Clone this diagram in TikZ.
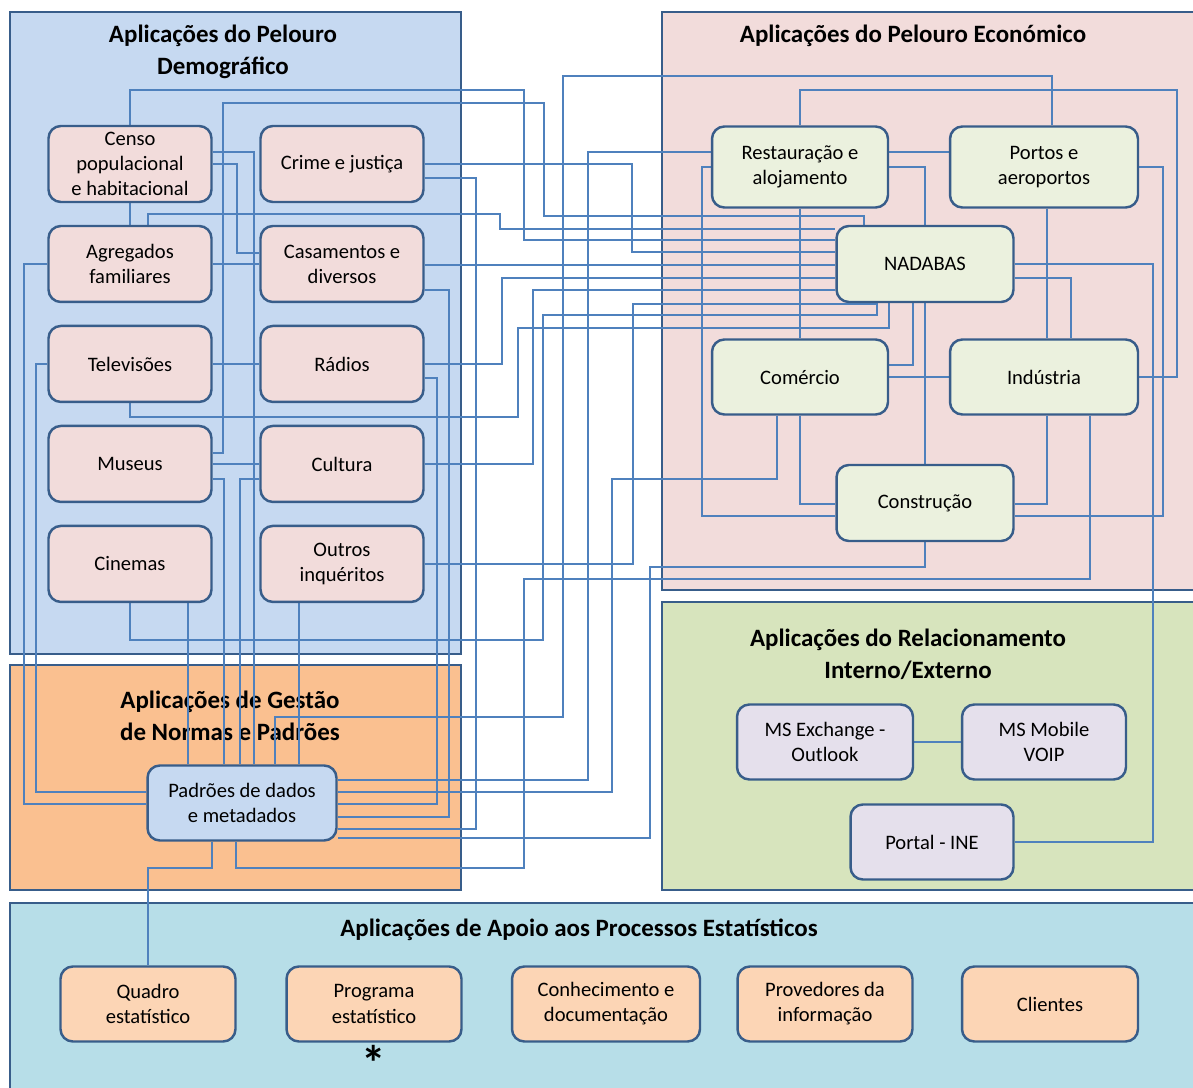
\documentclass[tikz,border=0pt]{standalone}
\usepackage{fontspec}
\setmainfont{Carlito}
\usepackage{xcolor}
\usetikzlibrary{positioning}

\definecolor{edgeblue}{HTML}{385D8A}
\definecolor{linkblue}{HTML}{4F81BD}
\definecolor{demofill}{HTML}{C6D9F1}
\definecolor{econfill}{HTML}{F2DCDB}
\definecolor{normfill}{HTML}{FAC090}
\definecolor{relfill}{HTML}{D7E4BD}
\definecolor{apoiofill}{HTML}{B7DEE8}
\definecolor{demonode}{HTML}{F2DCDB}
\definecolor{econnode}{HTML}{EBF1DE}
\definecolor{relnode}{HTML}{E5E0EC}
\definecolor{apoionode}{HTML}{FCD5B5}

\pgfdeclarelayer{back}
\pgfdeclarelayer{links}
\pgfsetlayers{back,links,main}

\begin{document}
\begin{tikzpicture}[x=0.02cm, y=-0.02cm, node distance=2cm,
  app/.style={draw=edgeblue, line width=1.4pt, rounded corners=7pt, align=center,
    minimum width=3.26cm, minimum height=1.52cm, inner sep=2pt,
    font=\fontsize{11.7}{14.3}\selectfont},
  demo/.style={app, fill=demonode},
  econ/.style={app, fill=econnode},
  rel/.style={app, fill=relnode, minimum height=1.5cm},
  apoio/.style={app, fill=apoionode, minimum width=3.5cm, minimum height=1.5cm},
  group/.style={draw=edgeblue, line width=1.6pt},
  grouptitle/.style={align=center, font=\bfseries\fontsize{14.2}{18}\selectfont},
  wire/.style={draw=linkblue, line width=0.8pt}]
  \useasboundingbox (0,0) rectangle (1193,1088);

  % Pelouro Demografico
  \node[demo] (censo)      at (130,164)          {Censo\\populacional\\e habitacional};
  \node[demo] (agregados)  [below of=censo]      {Agregados\\familiares};
  \node[demo] (televisoes) [below of=agregados]  {Televisões};
  \node[demo] (museus)     [below of=televisoes] {Museus};
  \node[demo] (cinemas)    [below of=museus]     {Cinemas};
  \node[demo] (crime)      at (342,164)          {Crime e justiça};
  \node[demo] (casamentos) [below of=crime]      {Casamentos e\\diversos};
  \node[demo] (radios)     [below of=casamentos] {Rádios};
  \node[demo] (cultura)    [below of=radios]     {Cultura};
  \node[demo] (outros)     [below of=cultura]    {Outros\\inquéritos};

  % Pelouro Economico
  \node[econ, minimum width=3.52cm, minimum height=1.62cm] (restauracao) at (800,167)  {Restauração e\\alojamento};
  \node[econ, minimum width=3.76cm, minimum height=1.62cm] (portos)      at (1044,167) {Portos e\\aeroportos};
  \node[econ, minimum width=3.54cm] (nadabas)    at (925,264)  {NADABAS};
  \node[econ, minimum width=3.52cm, minimum height=1.5cm] (comercio)  at (800,377)  {Comércio};
  \node[econ, minimum width=3.76cm, minimum height=1.5cm] (industria) at (1044,377) {Indústria};
  \node[econ, minimum width=3.54cm] (construcao) at (925,503)  {Construção};

  % Normas e Padroes
  \node[app, fill=demofill, minimum width=3.78cm, minimum height=1.5cm] (padroes) at (242,803) {Padrões de dados\\e metadados};

  % Relacionamento
  \node[rel, minimum width=3.52cm] (exchange) at (825,742)  {MS Exchange -\\Outlook};
  \node[rel, minimum width=3.28cm] (mobile)   at (1044,742) {MS Mobile\\VOIP};
  \node[rel]                       (portal)   at (932,842)  {Portal - INE};

  % Apoio
  \node[apoio] (quadro)       at (148,1004) {Quadro\\estatístico};
  \node[apoio] (programa)     at (374,1004) {Programa\\estatístico};
  \node[apoio, minimum width=3.76cm] (conhecimento) at (606,1004) {Conhecimento e\\documentação};
  \node[apoio] (provedores)   at (825,1004) {Provedores da\\informação};
  \node[apoio, minimum width=3.52cm] (clientes) at (1050,1004) {Clientes};
  \node[inner sep=0pt, anchor=north, font=\bfseries\fontsize{28}{28}\selectfont] (asterisco) at (374,1045) {*};

  \begin{pgfonlayer}{back}
    \draw[group, fill=demofill]  (10,12) rectangle (461,654);
    \draw[group, fill=econfill]  (662,12) rectangle (1200,590);
    \draw[group, fill=normfill]  (10,665) rectangle (461,890);
    \draw[group, fill=relfill]   (662,602) rectangle (1200,890);
    \draw[group, fill=apoiofill] (10,903) rectangle (1200,1100);
    \node[grouptitle] (tdemo)  at (223,52)  {Aplicações do Pelouro\\Demográfico};
    \node[grouptitle] (tecon)  at (913,36)  {Aplicações do Pelouro Económico};
    \node[grouptitle] (tnorm)  at (230,716) {Aplicações de Gestão\\de Normas e Padrões};
    \node[grouptitle] (trel)   at (908,654) {Aplicações do Relacionamento\\Interno/Externo};
    \node[grouptitle] (tapoio) at (579,930) {Aplicações de Apoio aos Processos Estatísticos};
  \end{pgfonlayer}

  \begin{pgfonlayer}{links}
    \draw[wire] (censo.north) |- (524,90) |- (nadabas.west |- 0,240);
    \draw[wire] (censo.east |- 0,152) -| (padroes.north -| 254,0);
    \draw[wire] (censo.east) -| (237,253) -- (casamentos.west |- 0,253);
    \draw[wire] (censo.south) -- (agregados.north);
    \draw[wire] (crime.east) -| (632,252) -- (nadabas.west |- 0,252);
    \draw[wire] (crime.east |- 0,178) -| (476,829) -- (padroes.east |- 0,829);
    \draw[wire] (agregados.north -| 148,0) |- (500,214) |- (nadabas.west |- 0,229);
    \draw[wire] (agregados.west) -| (24,804) -- (padroes.west |- 0,804);
    \draw[wire] (agregados.east) -- (casamentos.west);
    \draw[wire] (casamentos.east |- 0,265) -- (nadabas.west |- 0,265);
    \draw[wire] (casamentos.east |- 0,290) -| (449,817) -- (padroes.east |- 0,817);
    \draw[wire] (televisoes.west) -| (36,792) -- (padroes.west |- 0,792);
    \draw[wire] (televisoes.east) -- (radios.west);
    \draw[wire] (televisoes.south) |- (518,417) |- (889,328) -- (nadabas.south -| 889,0);
    \draw[wire] (radios.east) -| (502,278) -- (nadabas.west |- 0,278);
    \draw[wire] (radios.east |- 0,378) -| (437,804) -- (padroes.east |- 0,804);
    \draw[wire] (museus.east |- 0,453) -| (223,103) -| (544,216) -| (nadabas.north -| 864,0);
    \draw[wire] (museus.east) -- (cultura.west);
    \draw[wire] (museus.east |- 0,479) -| (padroes.north -| 224,0);
    \draw[wire] (cultura.west |- 0,479) -| (padroes.north -| 240,0);
    \draw[wire] (cultura.east) -| (533,290) -- (nadabas.west |- 0,290);
    \draw[wire] (cinemas.south) |- (543,640) |- (877,315) -- (nadabas.south -| 877,0);
    \draw[wire] (cinemas.south -| 188,0) -- (padroes.north -| 188,0);
    \draw[wire] (outros.east) -| (633,304) -| (nadabas.south -| 877,0);
    \draw[wire] (outros.south -| 299,0) -- (padroes.north -| 299,0);
    \draw[wire] (portos.north -| 1052,0) |- (563,76) |- (275,717) -- (padroes.north -| 275,0);
    \draw[wire] (restauracao.west |- 0,152) -| (588,780) -- (padroes.east |- 0,780);
    \draw[wire] (restauracao.west) -| (702,516) -- (construcao.west |- 0,516);
    \draw[wire] (restauracao.north) |- (1177,90) |- (industria.east);
    \draw[wire] (restauracao.east |- 0,152) -- (portos.west |- 0,152);
    \draw[wire] (restauracao.east) -| (construcao.north);
    \draw[wire] (restauracao.south) -- (comercio.north);
    \draw[wire] (portos.east) -| (1163,516) -- (construcao.east |- 0,516);
    \draw[wire] (portos.south -| 1047,0) -- (industria.north -| 1047,0);
    \draw[wire] (nadabas.east) -| (1153,842) -- (portal.east);
    \draw[wire] (nadabas.east |- 0,278) -| (industria.north -| 1071,0);
    \draw[wire] (nadabas.south -| 913,0) |- (comercio.east |- 0,365);
    \draw[wire] (comercio.east) -- (industria.west);
    \draw[wire] (comercio.south -| 777,0) |- (612,479) |- (padroes.east |- 0,792);
    \draw[wire] (comercio.south) |- (construcao.west |- 0,504);
    \draw[wire] (industria.south -| 1047,0) |- (construcao.east |- 0,504);
    \draw[wire] (industria.south -| 1090,0) |- (524,579) |- (236,868) -- (padroes.south -| 236,0);
    \draw[wire] (construcao.south) |- (650,567) |- (padroes.east |- 0,838);
    \draw[wire] (padroes.south -| 212,0) |- (148,868) -- (quadro.north);
    \draw[wire] (exchange.east) -- (mobile.west);
  \end{pgfonlayer}
\end{tikzpicture}
\end{document}
